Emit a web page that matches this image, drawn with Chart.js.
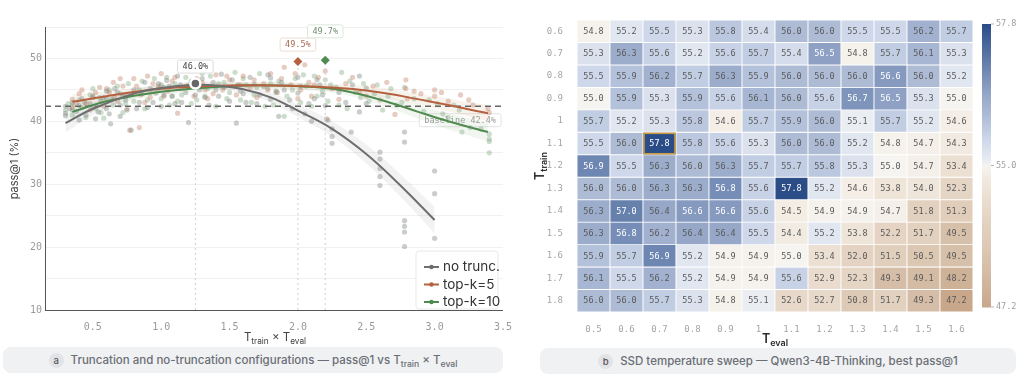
<!DOCTYPE html>
<html lang="en">
<head>
<meta charset="UTF-8">
<title>SSD temperature analysis</title>
<script src="https://cdn.jsdelivr.net/npm/chart.js"></script>
<style>
    * { box-sizing: border-box; margin: 0; padding: 0; }
    body { width: 1024px; height: 384px; overflow: hidden; background: #fff; font-family: Inter, "Noto Sans", sans-serif; position: relative; }
    canvas { position: absolute; top: 0; }
    #scatterChart { left: 0; }
    #heatChart { left: 530px; }
    .axis-title { position: absolute; text-align: center; color: #444; font-size: 11.5px; line-height: 14px; white-space: nowrap; }
    .axis-title.bold { font-weight: 600; color: #2b2b2b; font-size: 12.5px; }
    .axis-title sub { font-size: 0.72em; vertical-align: -0.35em; line-height: 0; }
    .caption { position: absolute; height: 26px; background: #f0f1f3; border-radius: 8px; display: flex; align-items: center; justify-content: center; gap: 7px; color: #6a6e75; font-size: 11.5px; font-weight: 500; }
    .caption sub { font-size: 0.75em; vertical-align: -0.35em; line-height: 0; }
    .badge { width: 15px; height: 15px; border-radius: 50%; background: #e2e3e6; color: #555; font-size: 9.5px; display: flex; align-items: center; justify-content: center; }
</style>
</head>
<body>
    <canvas id="scatterChart" width="515" height="345"></canvas>
    <canvas id="heatChart" width="494" height="345"></canvas>

    <div class="axis-title" style="left:45px; width:460px; top:330px;">T<sub>train</sub> × T<sub>eval</sub></div>
    <div class="axis-title bold" style="left:577px; width:396px; top:332px;">T<sub>eval</sub></div>
    <div class="axis-title bold" style="left:540px; top:166px; transform: translate(-50%, -50%) rotate(-90deg);">T<sub>train</sub></div>

    <div class="caption" style="left:3px; top:347px; width:500px;"><span class="badge">a</span><span>Truncation and no-truncation configurations — pass@1 vs T<sub>train</sub> × T<sub>eval</sub></span></div>
    <div class="caption" style="left:540px; top:348px; width:476px;"><span class="badge">b</span><span>SSD temperature sweep — Qwen3-4B-Thinking, best pass@1</span></div>

<script>
    // ---------- panel a: pass@1 vs T_train x T_eval ----------
    const xTicks = [0.5, 1.0, 1.5, 2.0, 2.5, 3.0, 3.5];
    const yTicks = [10, 15, 20, 25, 30, 35, 40, 45, 50, 55];
    const baseline = 42.4;

    // individual runs [x, pass@1]
    const pointsNoTrunc = [
        [0.30,41.3],[0.30,42.4],[0.30,40.9],[0.33,42.0],[0.35,41.8],[0.35,43.0],[0.38,41.6],[0.40,40.2],[0.40,42.5],[0.42,43.6],
        [0.44,43.0],[0.45,41.0],[0.48,42.8],[0.50,44.0],[0.50,42.2],[0.52,40.4],[0.54,41.5],[0.56,43.2],[0.58,43.8],[0.60,42.0],
        [0.60,44.8],[0.62,41.2],[0.63,39.6],[0.64,43.5],[0.66,45.2],[0.68,44.6],[0.70,42.6],[0.70,40.8],[0.72,44.0],[0.74,43.4],
        [0.75,41.8],[0.78,38.6],[0.80,45.0],[0.82,42.0],[0.84,43.0],[0.86,44.4],[0.88,46.2],[0.90,42.2],[0.92,45.2],[0.94,43.0],
        [0.96,44.5],[0.98,46.0],[1.00,45.8],[1.00,42.4],[1.02,44.2],[1.04,46.5],[1.06,45.6],[1.08,44.0],[1.10,42.8],[1.12,47.2],
        [1.14,45.8],[1.15,43.0],[1.18,44.6],[1.20,39.8],[1.20,45.5],[1.22,46.4],[1.25,44.2],[1.28,45.0],[1.30,46.8],[1.32,43.8],
        [1.35,42.6],[1.38,46.2],[1.40,45.0],[1.42,44.0],[1.44,47.5],[1.46,45.4],[1.50,43.2],[1.52,46.6],[1.55,39.7],[1.56,45.8],
        [1.58,44.8],[1.60,44.4],[1.62,43.0],[1.65,47.0],[1.68,45.9],[1.70,42.8],[1.72,44.2],[1.75,45.5],[1.78,47.4],[1.80,46.9],
        [1.80,43.5],[1.84,44.8],[1.86,40.8],[1.88,46.2],[1.90,45.0],[1.94,43.4],[1.96,42.0],[2.00,44.5],[2.00,47.0],[2.02,45.6],
        [2.05,41.2],[2.08,42.8],[2.10,40.0],[2.12,43.6],[2.14,46.6],[2.16,45.8],[2.18,44.2],[2.20,42.5],[2.22,40.2],[2.25,38.8],
        [2.25,36.5],[2.25,37.6],[2.30,44.6],[2.35,43.0],[2.39,38.3],[2.40,45.8],[2.45,47.2],[2.45,41.5],[2.50,45.3],[2.50,42.8],
        [2.60,29.8],[2.60,31.2],[2.60,32.5],[2.60,34.0],[2.60,35.1],[2.78,20.1],[2.78,22.4],[2.78,23.3],[2.78,24.2],[2.78,36.7],
        [2.78,38.3],[3.00,21.4],[3.00,28.5],[3.00,32.1]
    ];
    const pointsTopK5 = [
        [0.35,43.5],[0.35,42.2],[0.38,43.0],[0.40,44.4],[0.42,45.0],[0.45,42.8],[0.48,41.8],[0.50,43.8],[0.52,44.6],[0.55,45.4],
        [0.58,42.4],[0.60,45.2],[0.62,44.6],[0.65,46.2],[0.66,43.8],[0.68,43.2],[0.70,46.8],[0.72,45.6],[0.74,44.0],[0.75,42.0],
        [0.77,38.6],[0.80,46.8],[0.82,45.6],[0.84,39.0],[0.85,44.2],[0.88,43.0],[0.90,47.2],[0.92,43.8],[0.94,46.0],[0.98,45.6],
        [1.00,47.6],[1.02,44.0],[1.05,44.8],[1.08,46.4],[1.10,47.0],[1.12,41.3],[1.15,45.2],[1.18,45.6],[1.20,48.2],[1.24,44.0],
        [1.26,46.8],[1.30,46.2],[1.32,45.0],[1.34,43.6],[1.38,44.4],[1.40,47.4],[1.45,45.0],[1.48,47.2],[1.50,46.6],[1.55,44.2],
        [1.58,45.8],[1.60,47.2],[1.65,45.4],[1.68,46.6],[1.70,43.8],[1.75,46.0],[1.78,45.0],[1.80,47.6],[1.85,44.6],[1.88,46.8],
        [1.90,48.6],[1.95,45.8],[1.98,47.6],[2.00,43.6],[2.02,45.0],[2.05,49.0],[2.08,46.2],[2.10,44.0],[2.12,45.8],[2.15,47.0],
        [2.20,48.0],[2.21,40.4],[2.25,45.2],[2.30,43.5],[2.35,46.0],[2.40,47.0],[2.45,44.6],[2.50,44.0],[2.55,45.6],[2.60,43.4],
        [2.65,46.2],[2.71,41.1],[2.79,46.6],[2.79,45.2],[2.80,43.6],[2.85,44.8],[2.90,44.4],[3.00,45.0],[3.00,44.0],[3.05,44.6],
        [3.10,43.2],[3.19,44.2],[3.25,43.4],[3.28,42.6],[3.39,42.0],[3.40,41.4]
    ];
    const pointsTopK10 = [
        [0.30,41.8],[0.32,42.8],[0.35,42.6],[0.35,41.0],[0.40,43.4],[0.42,42.2],[0.45,40.6],[0.48,44.2],[0.50,45.2],[0.52,42.0],
        [0.55,43.8],[0.56,41.4],[0.58,40.5],[0.60,43.6],[0.62,45.0],[0.65,42.6],[0.68,45.6],[0.70,44.4],[0.72,41.4],[0.74,42.8],
        [0.76,46.0],[0.78,44.2],[0.80,43.2],[0.84,45.0],[0.86,46.4],[0.88,42.0],[0.90,43.4],[0.92,44.6],[0.95,46.8],[0.98,45.2],
        [1.00,43.6],[1.02,45.4],[1.04,47.0],[1.06,42.6],[1.08,44.0],[1.10,46.0],[1.12,43.2],[1.15,44.2],[1.18,47.0],[1.20,45.8],
        [1.22,42.8],[1.26,43.4],[1.28,45.6],[1.30,47.6],[1.32,44.0],[1.34,45.2],[1.36,47.2],[1.40,42.4],[1.42,46.0],[1.46,46.2],
        [1.48,43.6],[1.50,44.6],[1.54,47.8],[1.56,45.6],[1.58,43.4],[1.60,46.8],[1.62,45.8],[1.66,43.0],[1.68,44.2],[1.70,45.4],
        [1.72,47.6],[1.76,42.4],[1.78,45.2],[1.80,46.0],[1.82,42.6],[1.84,44.6],[1.86,46.4],[1.90,40.8],[1.92,44.0],[1.96,45.0],
        [1.98,46.8],[2.02,43.0],[2.04,47.4],[2.06,45.6],[2.10,42.4],[2.12,47.2],[2.14,44.0],[2.18,44.8],[2.20,46.6],[2.22,43.2],
        [2.24,45.8],[2.28,45.4],[2.30,42.6],[2.32,47.8],[2.36,42.0],[2.38,46.4],[2.42,44.6],[2.46,43.8],[2.48,46.0],[2.52,43.2],
        [2.56,44.4],[2.58,45.8],[2.62,41.8],[2.66,44.0],[2.68,45.2],[2.72,42.6],[2.76,43.0],[2.78,45.4],[2.85,43.6],[2.92,41.6],
        [2.96,43.4],[3.02,42.8],[3.06,41.2],[3.10,40.6],[3.14,42.6],[3.18,41.8],[3.20,38.3],[3.26,39.0],[3.34,38.8],[3.40,37.2],
        [3.40,36.8],[3.40,35.0],[3.40,38.0]
    ];

    // quadratic fits, with their confidence bands
    const noTruncFitX  = [0.3, 0.5, 0.8, 1.0, 1.25, 1.4, 1.6, 1.8, 2.0, 2.25, 2.5, 2.75, 3.0];
    const noTruncFitY  = [39.7, 42.0, 44.4, 45.3, 45.8, 45.7, 45.1, 43.8, 41.7, 38.8, 34.8, 29.8, 24.3];
    const noTruncBandLo = [38.2, 41.0, 43.7, 44.8, 45.3, 45.2, 44.5, 43.0, 40.7, 37.6, 33.3, 28.0, 22.2];
    const noTruncBandHi = [41.2, 43.0, 45.1, 45.8, 46.3, 46.2, 45.7, 44.6, 42.7, 40.0, 36.3, 31.6, 26.4];

    const topK5FitX  = [0.35, 0.6, 1.0, 1.5, 2.0, 2.5, 2.93, 3.39];
    const topK5FitY  = [43.1, 44.0, 45.2, 45.7, 45.6, 44.9, 43.3, 41.3];
    const topK5BandLo = [41.9, 43.2, 44.7, 45.2, 45.1, 44.2, 42.4, 40.0];
    const topK5BandHi = [44.3, 44.8, 45.7, 46.2, 46.1, 45.6, 44.2, 42.6];

    const topK10FitX  = [0.35, 0.6, 1.0, 1.5, 1.8, 2.2, 2.44, 2.7, 2.88, 3.1, 3.39];
    const topK10FitY  = [41.5, 43.2, 44.7, 45.6, 45.7, 45.3, 44.4, 42.8, 41.5, 40.0, 38.3];
    const topK10BandLo = [40.2, 42.4, 44.2, 45.1, 45.2, 44.7, 43.7, 41.9, 40.4, 38.7, 36.8];
    const topK10BandHi = [42.8, 44.0, 45.2, 46.1, 46.2, 45.9, 45.1, 43.7, 42.6, 41.3, 39.8];

    // best run of each family: [x, pass@1]
    const peakNoTrunc = [1.25, 46.0];
    const peakTopK5 = [2.0, 49.5];
    const peakTopK10 = [2.2, 49.7];

    const seriesNames = ['no trunc.', 'top-k=5', 'top-k=10'];
    const lineColors = ['#6e6e6e', '#b5613f', '#4f8a4f'];
    const dotColors = ['rgba(122,132,125,0.40)', 'rgba(196,128,100,0.40)', 'rgba(128,170,128,0.40)'];
    const bandColors = ['rgba(140,140,140,0.11)', 'rgba(205,160,130,0.14)', 'rgba(140,180,140,0.12)'];

    const toXY = pairs => pairs.map(p => ({ x: p[0], y: p[1] }));
    const zipXY = (xs, ys) => xs.map((x, i) => ({ x: x, y: ys[i] }));

    function bandSets(xs, lo, hi, color) {
        return [
            { type: 'line', data: zipXY(xs, hi), borderWidth: 0, pointRadius: 0, tension: 0.4, fill: false, order: 6 },
            { type: 'line', data: zipXY(xs, lo), borderWidth: 0, pointRadius: 0, tension: 0.4, fill: '-1', backgroundColor: color, order: 6 }
        ];
    }
    function fitSet(xs, ys, color) {
        return { type: 'line', data: zipXY(xs, ys), borderColor: color, borderWidth: 2, pointRadius: 0, tension: 0.4, fill: false, order: 1 };
    }
    function dotSet(points, color) {
        return { type: 'scatter', data: toXY(points), backgroundColor: color, borderWidth: 0, pointRadius: 2.6, order: 4 };
    }
    function dropLine(peak) {
        return { type: 'line', data: [{ x: peak[0], y: 10 }, { x: peak[0], y: peak[1] }], borderColor: '#cfcfcf', borderWidth: 1, borderDash: [2, 3], pointRadius: 0, fill: false, order: 3 };
    }

    const monoFont = '"DejaVu Sans Mono", "Liberation Mono", monospace';

    function drawTag(ctx, cx, cy, text, textColor, edgeColor) {
        ctx.font = '8.5px ' + monoFont;
        const w = ctx.measureText(text).width + 10, h = 13;
        ctx.beginPath();
        ctx.roundRect(cx - w / 2, cy - h / 2, w, h, 2);
        ctx.fillStyle = 'rgba(255,255,255,0.92)';
        ctx.fill();
        ctx.strokeStyle = edgeColor;
        ctx.lineWidth = 1;
        ctx.stroke();
        ctx.fillStyle = textColor;
        ctx.textAlign = 'center';
        ctx.textBaseline = 'middle';
        ctx.fillText(text, cx, cy + 0.5);
    }

    // baseline tag sits under the curves, peak tags and the legend on top
    const scatterDecor = {
        id: 'scatterDecor',
        beforeDatasetsDraw(chart) {
            const { ctx, chartArea, scales } = chart;
            const text = 'baseline ' + baseline.toFixed(1) + '%';
            ctx.save();
            ctx.font = '8.5px ' + monoFont;
            const w = ctx.measureText(text).width + 10;
            drawTag(ctx, chartArea.right - 2 - w / 2, scales.y.getPixelForValue(baseline) + 14, text, '#9a9a9a', '#e3e3e3');
            ctx.restore();
        },
        afterDatasetsDraw(chart) {
            const { ctx, chartArea, scales } = chart;
            ctx.save();
            const tags = [
                [peakNoTrunc, 17, '#444', '#dddddd'],
                [peakTopK5, 17, '#a86a4f', '#ecdcd2'],
                [peakTopK10, 29, '#6f8f6f', '#dde8dd']
            ];
            tags.forEach(([p, lift, tc, ec]) => {
                drawTag(ctx, scales.x.getPixelForValue(p[0]), scales.y.getPixelForValue(p[1]) - lift, p[1].toFixed(1) + '%', tc, ec);
            });

            // legend box, bottom right of the plot
            const bw = 82, bh = 58;
            const bx = chartArea.right - 5 - bw, by = chartArea.bottom - 1 - bh;
            ctx.beginPath();
            ctx.roundRect(bx, by, bw, bh, 3);
            ctx.fillStyle = 'rgba(255,255,255,0.95)';
            ctx.fill();
            ctx.strokeStyle = '#e8e8e8';
            ctx.stroke();
            ctx.font = '13.5px Inter, "Noto Sans", sans-serif';
            ctx.textAlign = 'left';
            ctx.textBaseline = 'middle';
            seriesNames.forEach((name, i) => {
                const ly = by + 16 + i * 17.5;
                ctx.strokeStyle = lineColors[i];
                ctx.lineWidth = 2;
                ctx.beginPath();
                ctx.moveTo(bx + 8, ly);
                ctx.lineTo(bx + 23, ly);
                ctx.stroke();
                ctx.fillStyle = lineColors[i];
                ctx.beginPath();
                ctx.arc(bx + 15.5, ly, 2.2, 0, Math.PI * 2);
                ctx.fill();
                ctx.fillStyle = '#333';
                ctx.fillText(name, bx + 27, ly);
            });
            ctx.restore();
        }
    };

    new Chart(document.getElementById('scatterChart'), {
        type: 'scatter',
        data: {
            datasets: [
                { type: 'scatter', data: toXY([peakNoTrunc]), pointStyle: 'circle', pointRadius: 5, backgroundColor: '#666', borderColor: '#fff', borderWidth: 2.5, order: 0 },
                { type: 'scatter', data: toXY([peakTopK5]), pointStyle: 'rectRot', pointRadius: 4.5, backgroundColor: lineColors[1], borderWidth: 0, order: 0 },
                { type: 'scatter', data: toXY([peakTopK10]), pointStyle: 'rectRot', pointRadius: 4.5, backgroundColor: lineColors[2], borderWidth: 0, order: 0 },
                fitSet(noTruncFitX, noTruncFitY, lineColors[0]),
                fitSet(topK5FitX, topK5FitY, lineColors[1]),
                fitSet(topK10FitX, topK10FitY, lineColors[2]),
                { type: 'line', data: [{ x: 0.15, y: baseline }, { x: 3.5, y: baseline }], borderColor: '#666', borderWidth: 1.3, borderDash: [6, 4], pointRadius: 0, fill: false, order: 2 },
                dropLine(peakNoTrunc), dropLine(peakTopK5), dropLine(peakTopK10),
                dotSet(pointsNoTrunc, dotColors[0]),
                dotSet(pointsTopK5, dotColors[1]),
                dotSet(pointsTopK10, dotColors[2]),
                ...bandSets(noTruncFitX, noTruncBandLo, noTruncBandHi, bandColors[0]),
                ...bandSets(topK5FitX, topK5BandLo, topK5BandHi, bandColors[1]),
                ...bandSets(topK10FitX, topK10BandLo, topK10BandHi, bandColors[2])
            ]
        },
        options: {
            responsive: false,
            animation: false,
            layout: { padding: { top: 27, right: 10, left: 0, bottom: 0 } },
            plugins: { legend: { display: false }, tooltip: { enabled: false } },
            scales: {
                x: {
                    type: 'linear', min: 0.15, max: 3.5,
                    afterBuildTicks: s => { s.ticks = xTicks.map(v => ({ value: v })); },
                    afterFit: s => { s.height = 35; },
                    ticks: { callback: v => v.toFixed(1), color: '#9a9a9a', font: { family: monoFont, size: 10 }, padding: 3, maxRotation: 0 },
                    grid: { display: false },
                    border: { color: '#555', width: 1 }
                },
                y: {
                    min: 10, max: 55,
                    afterBuildTicks: s => { s.ticks = yTicks.map(v => ({ value: v })); },
                    afterFit: s => { s.width = 45; },
                    ticks: { callback: v => (v % 10 === 0 ? v : ''), color: '#9a9a9a', font: { family: monoFont, size: 10 }, padding: 3 },
                    grid: { color: '#f1f1f1', drawTicks: false },
                    border: { color: '#555', width: 1 },
                    title: { display: true, text: 'pass@1 (%)', color: '#444', font: { family: 'Inter', size: 11 }, padding: { top: 8, bottom: 0 } }
                }
            }
        },
        plugins: [scatterDecor]
    });

    // ---------- panel b: heatmap of best pass@1 ----------
    const tEval = ['0.5', '0.6', '0.7', '0.8', '0.9', '1', '1.1', '1.2', '1.3', '1.4', '1.5', '1.6'];
    const tTrain = ['0.6', '0.7', '0.8', '0.9', '1', '1.1', '1.2', '1.3', '1.4', '1.5', '1.6', '1.7', '1.8'];
    // one row per T_train, columns follow tEval
    const passAt1 = [
        [54.8, 55.2, 55.5, 55.3, 55.8, 55.4, 56.0, 56.0, 55.5, 55.5, 56.2, 55.7],
        [55.3, 56.3, 55.6, 55.2, 55.6, 55.7, 55.4, 56.5, 54.8, 55.7, 56.1, 55.3],
        [55.5, 55.9, 56.2, 55.7, 56.3, 55.9, 56.0, 56.0, 56.0, 56.6, 56.0, 55.2],
        [55.0, 55.9, 55.3, 55.9, 55.6, 56.1, 56.0, 55.6, 56.7, 56.5, 55.3, 55.0],
        [55.7, 55.2, 55.3, 55.8, 54.6, 55.7, 55.9, 56.0, 55.1, 55.7, 55.2, 54.6],
        [55.5, 56.0, 57.8, 55.8, 55.6, 55.3, 56.0, 56.0, 55.2, 54.8, 54.7, 54.3],
        [56.9, 55.5, 56.3, 56.0, 56.3, 55.7, 55.7, 55.8, 55.3, 55.0, 54.7, 53.4],
        [56.0, 56.0, 56.3, 56.3, 56.8, 55.6, 57.8, 55.2, 54.6, 53.8, 54.0, 52.3],
        [56.3, 57.0, 56.4, 56.6, 56.6, 55.6, 54.5, 54.9, 54.9, 54.7, 51.8, 51.3],
        [56.3, 56.8, 56.2, 56.4, 56.4, 55.5, 54.4, 55.2, 53.8, 52.2, 51.7, 49.5],
        [55.9, 55.7, 56.9, 55.2, 54.9, 54.9, 55.0, 53.4, 52.0, 51.5, 50.5, 49.5],
        [56.1, 55.5, 56.2, 55.2, 54.9, 54.9, 55.6, 52.9, 52.3, 49.3, 49.1, 48.2],
        [56.0, 56.0, 55.7, 55.3, 54.8, 55.1, 52.6, 52.7, 50.8, 51.7, 49.3, 47.2]
    ];
    const bestTrain = '1.1', bestEval = '0.7';   // outlined cell
    const cbarCenter = 55.0;
    const cbarMax = Math.max(...passAt1.flat());
    const cbarMin = Math.min(...passAt1.flat());

    // diverging colormap, two slopes around the centre value
    const blueStops = [[0, [246, 244, 240]], [0.05, [229, 234, 242]], [0.18, [206, 216, 234]], [0.36, [172, 187, 213]], [0.5, [150, 167, 200]], [0.68, [110, 135, 178]], [1, [42, 77, 136]]];
    const brownStops = [[0, [246, 244, 240]], [0.05, [244, 238, 230]], [0.15, [238, 228, 216]], [0.35, [229, 213, 197]], [0.7, [215, 192, 170]], [1, [200, 167, 139]]];
    function rampColor(stops, t) {
        t = Math.max(0, Math.min(1, t));
        for (let i = 1; i < stops.length; i++) {
            if (t <= stops[i][0]) {
                const [t0, c0] = stops[i - 1], [t1, c1] = stops[i];
                const f = (t - t0) / (t1 - t0);
                return 'rgb(' + c0.map((c, k) => Math.round(c + (c1[k] - c) * f)).join(',') + ')';
            }
        }
        return 'rgb(' + stops[stops.length - 1][1].join(',') + ')';
    }
    function cellColor(v) {
        return v >= cbarCenter
            ? rampColor(blueStops, (v - cbarCenter) / (cbarMax - cbarCenter))
            : rampColor(brownStops, (cbarCenter - v) / (cbarCenter - cbarMin));
    }

    const heatDecor = {
        id: 'heatDecor',
        afterDatasetsDraw(chart) {
            const { ctx, chartArea } = chart;
            ctx.save();
            ctx.font = '8.5px ' + monoFont;
            ctx.textAlign = 'center';
            ctx.textBaseline = 'middle';
            passAt1.forEach((row, i) => {
                const meta = chart.getDatasetMeta(i);
                row.forEach((v, j) => {
                    const el = meta.data[j];
                    ctx.fillStyle = v >= 56.5 ? '#ffffff' : '#5a5a5a';
                    ctx.fillText(v.toFixed(1), el.x, (el.y + el.base) / 2 + 0.5);
                });
            });
            // outline of the best configuration
            const bi = tTrain.indexOf(bestTrain), bj = tEval.indexOf(bestEval);
            const be = chart.getDatasetMeta(bi).data[bj];
            const top = Math.min(be.y, be.base), h = Math.abs(be.base - be.y);
            ctx.strokeStyle = '#c99a45';
            ctx.lineWidth = 1.6;
            ctx.strokeRect(be.x - be.width / 2 + 1, top + 1, be.width - 2, h - 2);

            // colour bar with a two-slope scale
            const cx = chartArea.right + 9, cw = 9;
            const cTop = chartArea.top + 4, cBot = chartArea.bottom - 5, cMid = (cTop + cBot) / 2;
            for (let y = cTop; y < cBot; y++) {
                const v = y < cMid
                    ? cbarMax - (y - cTop) / (cMid - cTop) * (cbarMax - cbarCenter)
                    : cbarCenter - (y - cMid) / (cBot - cMid) * (cbarCenter - cbarMin);
                ctx.fillStyle = cellColor(v);
                ctx.fillRect(cx, y, cw, 1.5);
            }
            ctx.font = '8.5px ' + monoFont;
            ctx.textAlign = 'left';
            ctx.fillStyle = '#a0a0a0';
            ctx.strokeStyle = '#b5b5b5';
            ctx.lineWidth = 1;
            [[cbarMax, cTop], [cbarCenter, cMid], [cbarMin, cBot]].forEach(([v, y]) => {
                ctx.beginPath();
                ctx.moveTo(cx + cw, y);
                ctx.lineTo(cx + cw + 3, y);
                ctx.stroke();
                ctx.fillText(v.toFixed(1), cx + cw + 5, y);
            });
            ctx.restore();
        }
    };

    new Chart(document.getElementById('heatChart'), {
        type: 'bar',
        data: {
            labels: tEval,
            datasets: passAt1.map((row, i) => ({
                label: tTrain[i],
                data: row.map(() => [i - 0.5, i + 0.5]),
                backgroundColor: row.map(cellColor),
                borderColor: '#ffffff',
                borderWidth: 0.8,
                borderSkipped: false,
                barPercentage: 1,
                categoryPercentage: 1,
                grouped: false
            }))
        },
        options: {
            responsive: false,
            animation: false,
            layout: { padding: { top: 20, right: 51, left: 0, bottom: 0 } },
            plugins: { legend: { display: false }, tooltip: { enabled: false } },
            scales: {
                x: {
                    afterFit: s => { s.height = 33; },
                    ticks: { color: '#a5a5a5', font: { family: monoFont, size: 9 }, padding: 4, maxRotation: 0 },
                    grid: { display: false },
                    border: { display: false }
                },
                y: {
                    min: -0.5, max: 12.5, reverse: true,
                    afterBuildTicks: s => { s.ticks = tTrain.map((_, i) => ({ value: i })); },
                    afterFit: s => { s.width = 47; },
                    ticks: { callback: v => tTrain[v], color: '#a5a5a5', font: { family: monoFont, size: 9 }, padding: 6 },
                    grid: { display: false },
                    border: { display: false }
                }
            }
        },
        plugins: [heatDecor]
    });
</script>
</body>
</html>
